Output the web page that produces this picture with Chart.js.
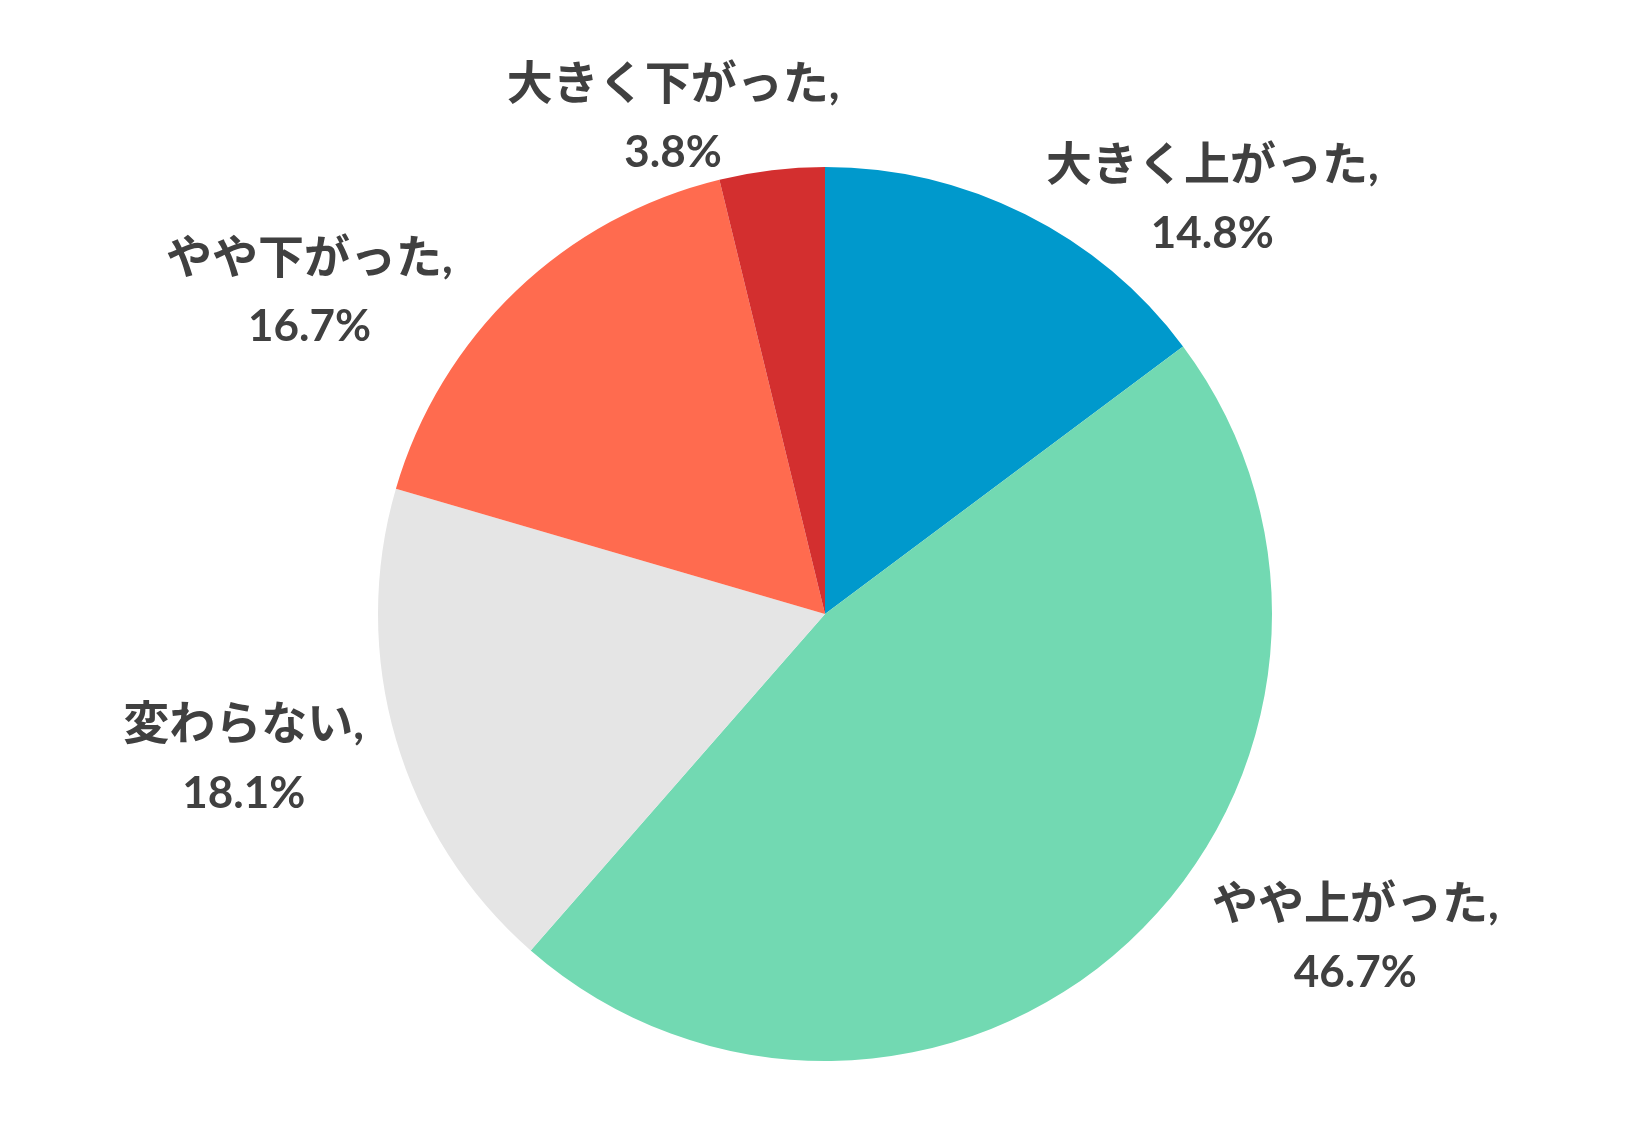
<!DOCTYPE html>
<html>
<head>
<meta charset="utf-8">
<script src="https://cdn.jsdelivr.net/npm/chart.js@4"></script>
<style>
  html, body { margin: 0; padding: 0; background: #fff; }
  #wrap { width: 1650px; height: 1136px; }
</style>
</head>
<body>
<div id="wrap"><canvas id="a"></canvas></div>
<script>
const categories = ["大きく上がった", "やや上がった", "変わらない", "やや下がった", "大きく下がった"];
const shares = [14.8, 46.7, 18.1, 16.7, 3.8];
const colors = ["#0099CC", "#72D9B2", "#E5E5E5", "#FF6B4F", "#D32F2F"];

// where each label sits around the pie: angle shift from slice middle (deg), distance in radii
const labelShift = [16.4, -15.8, 2.3, -14.3, -10.2];
const labelDist = [1.27, 1.39, 1.34, 1.36, 1.16];

const outsideLabels = {
  id: "outsideLabels",
  afterDraw(chart) {
    const ctx = chart.ctx;
    const arcs = chart.getDatasetMeta(0).data;
    ctx.save();
    ctx.fillStyle = "#404040";
    ctx.textAlign = "center";
    ctx.textBaseline = "middle";
    arcs.forEach((arc, i) => {
      const mid = (arc.startAngle + arc.endAngle) / 2 + labelShift[i] * Math.PI / 180;
      const r = arc.outerRadius * labelDist[i];
      const x = arc.x + Math.cos(mid) * r;
      const y = arc.y + Math.sin(mid) * r;
      ctx.font = "bold 46px Lato, 'Noto Sans CJK JP', sans-serif";
      ctx.fillText(categories[i] + ",", x, y - 34);
      ctx.font = "bold 44px Lato, 'Noto Sans CJK JP', sans-serif";
      ctx.fillText(shares[i].toFixed(1) + "%", x, y + 35);
    });
    ctx.restore();
  }
};

new Chart(document.querySelector("#a"), {
  type: "pie",
  data: {
    labels: categories,
    datasets: [{
      data: shares,
      backgroundColor: colors,
      borderWidth: 0
    }]
  },
  options: {
    responsive: true,
    maintainAspectRatio: false,
    animation: false,
    layout: { padding: { left: 378, right: 378, top: 167, bottom: 75 } },
    plugins: {
      legend: { display: false },
      tooltip: { enabled: false }
    }
  },
  plugins: [outsideLabels]
});
</script>
</body>
</html>
